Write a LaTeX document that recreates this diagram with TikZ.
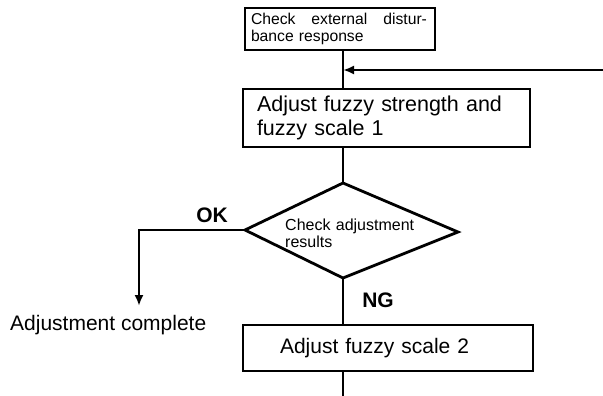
\documentclass[tikz,border=0pt]{standalone}
\usepackage{fontspec}
\setmainfont{Liberation Sans}
\usetikzlibrary{arrows.meta}
\begin{document}
\begin{tikzpicture}[x=1pt,y=-1pt,
  box/.style={draw,line width=2.8pt,rectangle,inner ysep=0pt},
  conn/.style={line width=2.4pt},
  arr/.style={line width=2.4pt,-{Latex[length=11pt,width=9pt]}},
  lbl/.style={inner sep=0pt,font=\fontsize{21}{24}\selectfont}]
\useasboundingbox (0,0) rectangle (603,396);
% top box
\node[box,minimum width=190pt,minimum height=42pt,inner xsep=6pt,text width=178pt,align=left,
  font=\fontsize{15.7}{17}\selectfont] (chk) at (340,29)
  {\hbox to 176pt{Check\hfill external\hfill distur-}\\bance response};
% second box
\node[box,minimum width=287pt,minimum height=58pt,inner xsep=14pt,text width=259pt,align=left,
  font=\fontsize{21.5}{24}\selectfont] (adj1) at (386.5,118)
  {Adjust fuzzy strength and\\fuzzy scale 1};
% third box
\node[box,minimum width=290pt,minimum height=46pt,inner xsep=37pt,text width=216pt,align=left,
  font=\fontsize{21}{24}\selectfont] (adj2) at (388,348)
  {Adjust fuzzy scale 2};
% diamond
\coordinate (dt) at (343,183);
\coordinate (dr) at (458,232);
\coordinate (db) at (343,278);
\coordinate (dl) at (245,230);
\draw[line width=2.8pt,line join=miter] (dt) -- (dr) -- (db) -- (dl) -- cycle;
\node[inner sep=0pt,text width=130pt,align=left,font=\fontsize{16}{17}\selectfont,anchor=west] (dtext) at (285,233)
  {Check adjustment\\results};
% connectors
\coordinate (rin) at (603,70);
\coordinate (join) at (343,70);
\draw[conn] (chk.south -| dt) -- (adj1.north -| dt);
\draw[arr] (rin) -- (join);
\draw[conn] (adj1.south -| dt) -- (dt);
\draw[conn] (db) -- (adj2.north -| db);
\coordinate (bend) at (139,230);
\coordinate (okend) at (139,306);
\draw[arr] (dl) -- (bend) -- (okend);
\coordinate (bot) at (343,396);
\draw[conn] (adj2.south -| db) -- (bot);
% labels
\node[lbl,anchor=base,font=\fontsize{21}{24}\selectfont\bfseries] (ok) at (212,222) {OK};
\node[lbl,anchor=base,font=\fontsize{21}{24}\selectfont\bfseries] (ng) at (378,307) {NG};
\node[lbl,anchor=base west] (done) at (10,330) {Adjustment complete};
\end{tikzpicture}
\end{document}
